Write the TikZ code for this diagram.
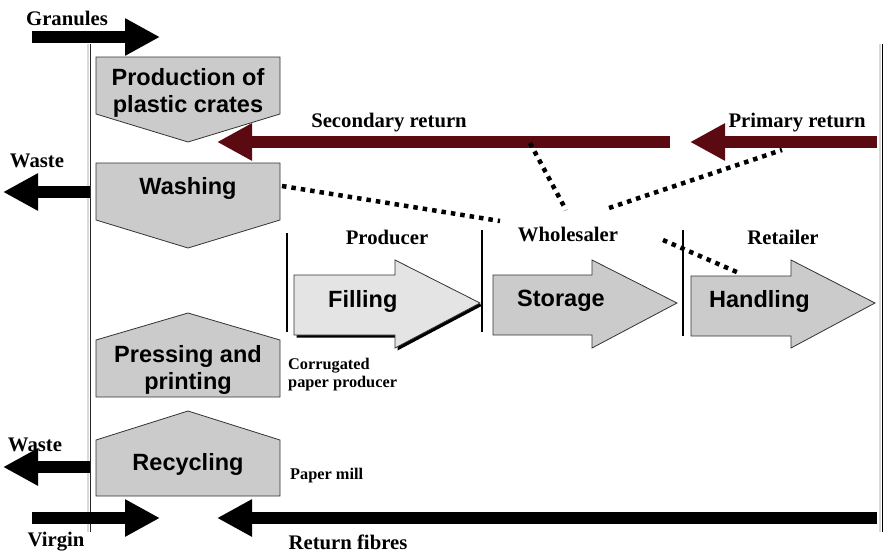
\documentclass[tikz,border=0pt]{standalone}
\usepackage{fontspec}
\usetikzlibrary{arrows.meta}
\setmainfont{Liberation Serif}
\newfontfamily\boxfont{Liberation Sans}
\definecolor{boxgray}{HTML}{CBCBCB}
\definecolor{lightgray2}{HTML}{E4E4E4}
\definecolor{darkred}{HTML}{5A0A10}
\begin{document}
\begin{tikzpicture}[x=1pt,y=-1pt,
  lbl/.style={font=\fontsize{20.7}{22}\selectfont\bfseries, inner sep=0pt},
  smalllbl/.style={font=\fontsize{16.3}{18}\selectfont\bfseries, inner sep=0pt, align=left},
  boxtxt/.style={font=\boxfont\fontsize{23.5}{26.5}\selectfont\bfseries, inner sep=0pt, align=center},
  shape box/.style={fill=boxgray, draw=black!80, line width=0.8pt},
  dots/.style={line width=4.5pt, dash pattern=on 4.5pt off 5pt},
  sep/.style={line width=2.6pt},
  fatarrow/.style={line width=12pt, -{Triangle[length=35pt,width=35pt]}},
]
\useasboundingbox (0,0) rectangle (885,554);
% vertical boundary lines with light shadow
\draw[black!15, line width=2pt] (88,44) -- (88,532);
\draw[black!85, line width=1.2pt] (90.5,44) -- (90.5,532);
\draw[black!15, line width=2pt] (880,44) -- (880,532);
\draw[black, line width=1.4pt] (882.5,44) -- (882.5,532);

% coordinates for arrow endpoints
\coordinate (granS) at (32,37);
\coordinate (granE) at (160,37);
\coordinate (waste1S) at (90,192);
\coordinate (waste1E) at (3,192);
\coordinate (waste2S) at (90,467);
\coordinate (waste2E) at (3,467);
\coordinate (virgS) at (32,518);
\coordinate (virgE) at (160,518);
\coordinate (retS) at (877,518);
\coordinate (retE) at (217,518);
\coordinate (secS) at (670,142);
\coordinate (secE) at (217,142);
\coordinate (priS) at (877,142);
\coordinate (priE) at (690,142);

\draw[fatarrow, black] (granS) -- (granE);
\draw[fatarrow, black] (waste1S) -- (waste1E);
\draw[fatarrow, black] (waste2S) -- (waste2E);
\draw[fatarrow, black] (virgS) -- (virgE);
\draw[fatarrow, black] (retS) -- (retE);
\draw[fatarrow, darkred] (secS) -- (secE);
\draw[fatarrow, darkred] (priS) -- (priE);

% labels
\node[lbl] (granules) at (67,18) {Granules};
\node[lbl] (wasteA) at (37,161) {Waste};
\node[lbl] (wasteB) at (35,445) {Waste};
\node[lbl] (virgin) at (56,542) {Virgin};
\node[lbl] (returnf) at (348,542) {Return fibres};
\node[lbl] (secret) at (389,123) {Secondary return};
\node[lbl] (priret) at (797,123) {Primary return};
\node[lbl] (producer) at (387,237) {Producer};
\node[lbl] (wholesaler) at (568,234) {Wholesaler};
\node[lbl] (retailer) at (783,237) {Retailer};
\node[smalllbl, anchor=north west] (corr) at (288,358) {Corrugated\\paper producer};
\node[smalllbl, anchor=west] (mill) at (290,476) {Paper mill};

% pentagon shapes (left column)
\draw[shape box] (96,57) -- (280,57) -- (280,114) -- (188,142) -- (96,114) -- cycle;
\node[boxtxt] (prod) at (188,93) {Production of\\plastic crates};
\draw[shape box] (96,163) -- (280,163) -- (280,220) -- (188,248) -- (96,220) -- cycle;
\node[boxtxt] (wash) at (188,188) {Washing};
\draw[shape box] (96,397) -- (280,397) -- (280,340) -- (188,313) -- (96,340) -- cycle;
\node[boxtxt] (press) at (188,370) {Pressing and\\printing};
\draw[shape box] (96,496) -- (280,496) -- (280,440) -- (188,411) -- (96,440) -- cycle;
\node[boxtxt] (recyc) at (188,464) {Recycling};

% stage separators
\draw[sep] (287,233) -- (287,332);
\draw[sep] (482,230) -- (482,332);
\draw[sep] (683,230) -- (683,336);

% big process arrows
\fill[black] (296.5,277.5) -- (397.5,277.5) -- (397.5,262.5) -- (482.5,305.5) -- (397.5,350.5) -- (397.5,337.5) -- (296.5,337.5) -- cycle;
\draw[fill=lightgray2, draw=black!80, line width=0.8pt] (294,275) -- (395,275) -- (395,260) -- (480,303) -- (395,348) -- (395,335) -- (294,335) -- cycle;
\node[boxtxt, anchor=west] (fill) at (328,301) {Filling};
\draw[shape box] (493,275) -- (592,275) -- (592,260) -- (677,303) -- (592,348) -- (592,335) -- (493,335) -- cycle;
\node[boxtxt, anchor=west] (stor) at (517,301) {Storage};
\draw[shape box] (691,276) -- (791,276) -- (791,260) -- (875,303) -- (791,348) -- (791,336) -- (691,336) -- cycle;
\node[boxtxt, anchor=west] (hand) at (709,301) {Handling};

% dotted links
\draw[dots] (282,186) -- (500,221);
\draw[dots] (530,143) -- (566,210);
\draw[dots] (609,208) -- (782,150);
\draw[dots] (663,240) -- (739,273);
\end{tikzpicture}
\end{document}
